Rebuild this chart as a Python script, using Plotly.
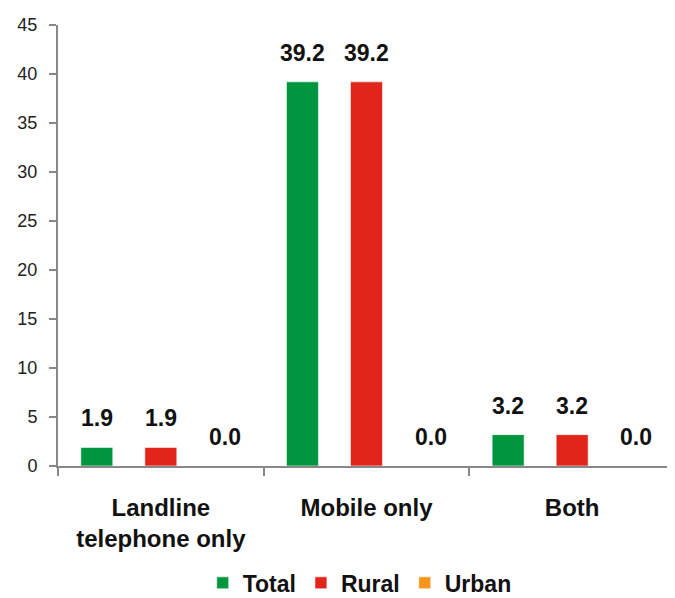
import plotly.graph_objects as go

categories = ["Landline<br>telephone only", "Mobile only", "Both"]
total = [1.9, 39.2, 3.2]
rural = [1.9, 39.2, 3.2]
urban = [0.0, 0.0, 0.0]
y_ticks = [0, 5, 10, 15, 20, 25, 30, 35, 40, 45]

FONT = "Liberation Sans, Arial, sans-serif"
series = [("Total", total, "#00953F"), ("Rural", rural, "#E1251B"), ("Urban", urban, "#F7941D")]

# page body has an 8px margin, so the figure is 8px smaller and margins compensate
W, H = 667, 590
ML, MT, MB = 50, 17, 132
BARGAP, GROUPGAP = 0.066, 0.5

fig = go.Figure()
for name, vals, color in series:
    fig.add_trace(go.Bar(
        x=categories, y=vals, name=f"<b>{name}</b>",
        marker=dict(color=color, line=dict(color="rgba(255,255,255,0.6)", width=1)),
        cliponaxis=False,
    ))

# value labels above bars
cat_px = (W - ML) / len(categories)
slot_px = (1 - BARGAP) * cat_px / len(series)
annotations = []
for i, (name, vals, color) in enumerate(series):
    for c, v in zip(categories, vals):
        annotations.append(dict(
            x=c, y=v, xref="x", yref="y", text=f"<b>{v:.1f}</b>", showarrow=False,
            xshift=(i - 1) * slot_px, yshift=29, yanchor="middle",
            font=dict(size=23, color="#111", family=FONT),
        ))

fig.update_layout(
    width=W, height=H,
    margin=dict(l=ML, r=0, t=MT, b=MB, autoexpand=False),
    plot_bgcolor="white", paper_bgcolor="white",
    barmode="group", bargap=BARGAP, bargroupgap=GROUPGAP,
    showlegend=True,
    legend=dict(orientation="h", x=0.489, xanchor="center", y=-0.265, yanchor="middle",
                font=dict(size=23, color="#111", family=FONT), itemwidth=30,
                traceorder="normal"),
    font=dict(family=FONT),
    annotations=annotations,
)
fig.update_xaxes(
    automargin=False,
    showline=True, linecolor="#888", linewidth=2,
    ticks="outside", tickson="boundaries", ticklen=8, tickcolor="#888", tickwidth=2,
    tickfont=dict(size=24, color="#111", family=FONT),
    tickprefix="<b>", ticksuffix="</b>", ticklabelstandoff=19,
)
fig.update_yaxes(
    automargin=False,
    range=[0, 45], tickvals=y_ticks, showgrid=False, zeroline=False,
    showline=True, linecolor="#888", linewidth=2,
    ticks="outside", ticklen=7, tickcolor="#888", tickwidth=2,
    tickfont=dict(size=18, color="#222", family=FONT), ticklabelstandoff=8,
)
fig.write_html("out.html")
